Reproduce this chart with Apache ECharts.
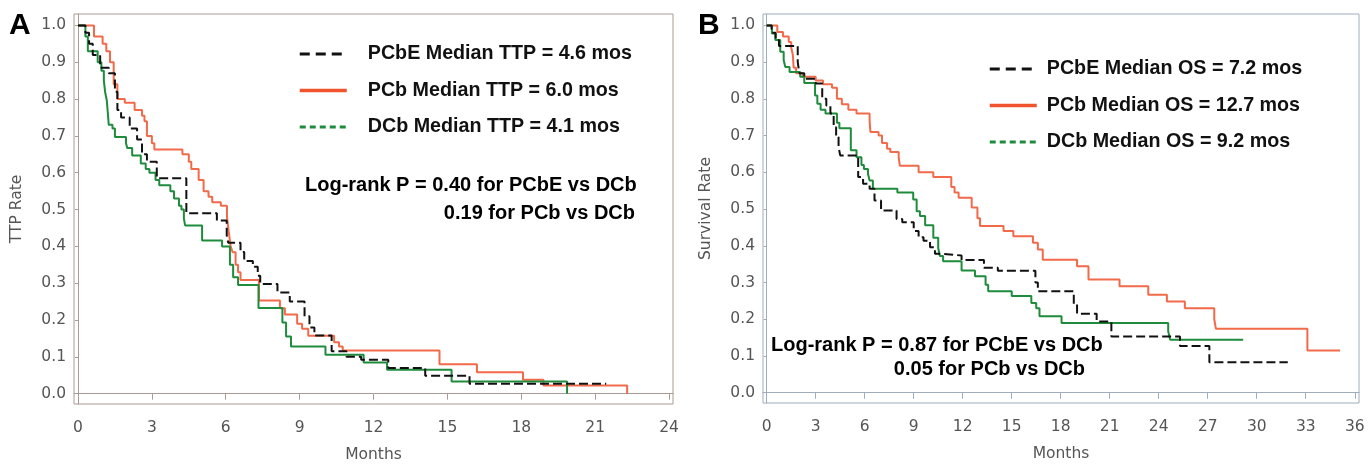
<!DOCTYPE html>
<html>
<head>
<meta charset="utf-8">
<title>TTP and OS by arm</title>
<script src="https://cdn.jsdelivr.net/npm/echarts@6.0.0/dist/echarts.min.js"></script>
<style>
  html, body { margin: 0; padding: 0; background: #fff; }
  #chart { width: 1369px; height: 464px; }
</style>
</head>
<body>
<div id="chart"></div>
<script>
// tick labels
var ttpMonthTicks = [0, 3, 6, 9, 12, 15, 18, 21, 24];
var osMonthTicks = [0, 3, 6, 9, 12, 15, 18, 21, 24, 27, 30, 33, 36];
var rateTicks = [0.0, 0.1, 0.2, 0.3, 0.4, 0.5, 0.6, 0.7, 0.8, 0.9, 1.0];

// legend names
var ttpNames = ['PCbE Median TTP = 4.6 mos', 'PCb Median TTP = 6.0 mos', 'DCb Median TTP = 4.1 mos'];
var osNames = ['PCbE Median OS = 7.2 mos', 'PCb Median OS = 12.7 mos', 'DCb Median OS = 9.2 mos'];

// panel A - time to progression (months, rate after each step)
var ttpPCbEMonths = [0, 0.3, 0.45, 0.6, 0.9, 1.25, 1.5, 1.6, 1.75, 2.1, 2.4, 2.6, 2.8, 3.2, 4.4, 5.64, 6.04, 6.1, 6.6, 6.75, 7.1, 7.3, 7.4, 8.1, 8.6, 9.2, 9.4, 9.6, 10.3, 10.9, 11.5, 12.6, 14.1, 15.9, 21.45];
var ttpPCbERate = [1.0, 0.98, 0.95, 0.92, 0.885, 0.87, 0.82, 0.77, 0.75, 0.72, 0.69, 0.65, 0.63, 0.585, 0.49, 0.47, 0.43, 0.41, 0.385, 0.36, 0.345, 0.32, 0.298, 0.275, 0.25, 0.21, 0.18, 0.158, 0.115, 0.1, 0.092, 0.07, 0.049, 0.027, 0.027];

var ttpPCbMonths = [0, 0.65, 1.0, 1.15, 1.3, 1.45, 1.6, 1.9, 2.3, 2.6, 2.7, 2.8, 3.0, 3.1, 4.24, 4.5, 4.6, 4.9, 5.1, 5.3, 5.45, 5.8, 6.05, 6.12, 6.2, 6.28, 6.4, 6.5, 6.6, 7.35, 8.2, 8.4, 8.9, 9.1, 9.35, 10.4, 10.6, 10.75, 14.68, 16.2, 18.07, 18.9, 22.3];
var ttpPCbRate = [1.0, 0.97, 0.95, 0.93, 0.9, 0.84, 0.8, 0.79, 0.77, 0.755, 0.74, 0.7, 0.68, 0.663, 0.65, 0.63, 0.61, 0.58, 0.55, 0.535, 0.52, 0.51, 0.48, 0.44, 0.4, 0.384, 0.35, 0.33, 0.309, 0.253, 0.232, 0.215, 0.19, 0.176, 0.157, 0.14, 0.128, 0.117, 0.08, 0.058, 0.038, 0.022, 0.0];

var ttpDCbMonths = [0, 0.3, 0.4, 0.8, 0.95, 1.05, 1.1, 1.17, 1.25, 1.4, 1.5, 1.95, 2.0, 2.2, 2.55, 2.75, 2.9, 3.15, 3.3, 3.75, 3.9, 4.1, 4.2, 4.3, 4.35, 5.04, 5.85, 6.17, 6.3, 6.5, 7.33, 8.3, 8.45, 8.65, 10.05, 11.6, 12.55, 15.17, 19.86];
var ttpDCbRate = [1.0, 0.97, 0.93, 0.9, 0.877, 0.85, 0.82, 0.796, 0.73, 0.72, 0.697, 0.68, 0.667, 0.647, 0.625, 0.61, 0.6, 0.58, 0.566, 0.55, 0.53, 0.51, 0.5, 0.476, 0.457, 0.416, 0.4, 0.35, 0.316, 0.295, 0.233, 0.193, 0.155, 0.128, 0.106, 0.085, 0.065, 0.033, 0.0];

// panel B - overall survival
var osPCbEMonths = [0, 0.3, 0.55, 0.75, 1.9, 2.0, 2.3, 3.0, 3.4, 3.65, 3.9, 4.1, 4.25, 4.4, 4.5, 5.6, 5.9, 6.3, 6.6, 7.0, 7.95, 8.3, 9.0, 9.3, 9.6, 10.0, 10.3, 10.8, 11.93, 13.3, 14.15, 16.45, 16.6, 18.8, 19.0, 20.2, 21.1, 25.3, 27.1, 31.9];
var osPCbERate = [1.0, 0.98, 0.96, 0.944, 0.9, 0.87, 0.855, 0.842, 0.8, 0.782, 0.76, 0.723, 0.696, 0.669, 0.646, 0.587, 0.569, 0.555, 0.523, 0.496, 0.473, 0.464, 0.44, 0.423, 0.414, 0.396, 0.378, 0.3735, 0.361, 0.34, 0.332, 0.3, 0.276, 0.24, 0.215, 0.194, 0.153, 0.127, 0.083, 0.083];

var osPCbMonths = [0, 0.65, 1.0, 1.35, 1.5, 1.6, 1.65, 1.8, 2.2, 3.0, 3.45, 4.0, 4.3, 4.6, 5.0, 5.5, 6.3, 6.35, 6.85, 7.06, 7.37, 7.57, 8.08, 8.15, 9.3, 10.2, 11.3, 11.5, 11.75, 12.55, 12.9, 13.06, 14.5, 15.1, 16.3, 16.6, 16.9, 19.0, 19.7, 21.6, 23.36, 24.5, 25.6, 27.4, 27.5, 33.1, 35.1];
var osPCbRate = [1.0, 0.982, 0.97, 0.955, 0.94, 0.92, 0.885, 0.87, 0.86, 0.85, 0.84, 0.83, 0.8, 0.785, 0.77, 0.76, 0.74, 0.71, 0.7, 0.68, 0.664, 0.655, 0.64, 0.618, 0.6, 0.587, 0.56, 0.545, 0.531, 0.504, 0.475, 0.454, 0.44, 0.426, 0.408, 0.39, 0.362, 0.344, 0.308, 0.29, 0.267, 0.248, 0.23, 0.2, 0.174, 0.115, 0.115];

var osDCbMonths = [0, 0.32, 0.53, 0.83, 1.04, 1.14, 1.4, 2.05, 2.3, 2.96, 3.1, 3.3, 3.6, 4.3, 4.45, 5.15, 5.5, 5.8, 5.95, 6.2, 6.3, 6.5, 8.0, 8.97, 9.18, 9.38, 9.7, 10.2, 10.5, 10.6, 10.8, 11.93, 12.75, 13.4, 13.56, 15.0, 16.2, 16.5, 16.7, 18.05, 24.58, 24.7, 29.17];
var osDCbRate = [1.0, 0.978, 0.96, 0.928, 0.905, 0.887, 0.873, 0.86, 0.843, 0.809, 0.787, 0.77, 0.76, 0.735, 0.72, 0.66, 0.641, 0.62, 0.609, 0.596, 0.578, 0.555, 0.545, 0.526, 0.494, 0.481, 0.456, 0.422, 0.394, 0.372, 0.358, 0.333, 0.317, 0.294, 0.276, 0.263, 0.244, 0.23, 0.208, 0.19, 0.167, 0.144, 0.144];

var black = '#111111';
var orange = '#f26a4a';
var green = '#1e8c3c';
var frameA = '#a89a94';
var frameB = '#9eacbb';
var tickFont = 'DejaVu Sans, Verdana, sans-serif';
var boldFont = 'Liberation Sans, Arial, sans-serif';
var hidden = { color: 'rgba(0,0,0,0)', borderWidth: 0, opacity: 0 };

function pairs(months, rate) {
    return months.map(function (m, i) { return [m, rate[i]]; });
}

function curve(name, idx, months, rate, color, dash) {
    return {
        name: name,
        type: 'line',
        xAxisIndex: idx,
        yAxisIndex: idx,
        step: 'end',
        symbol: 'none',
        silent: true,
        animation: false,
        data: pairs(months, rate),
        lineStyle: { color: color, width: 2, type: dash },
        itemStyle: { color: color }
    };
}

function xAxisFor(idx, min, max, ticks, color) {
    return {
        gridIndex: idx,
        type: 'value',
        min: min,
        max: max,
        name: 'Months',
        nameLocation: 'middle',
        nameGap: 43,
        nameTextStyle: { fontFamily: tickFont, fontSize: 15.5, color: '#555' },
        axisLine: { show: true, lineStyle: { color: color, width: 1 } },
        axisTick: { show: true, customValues: ticks, length: 6, lineStyle: { color: color } },
        axisLabel: { customValues: ticks, margin: 16, fontFamily: tickFont, fontSize: 15.5, color: '#555' },
        splitLine: { show: false }
    };
}

function yAxisFor(idx, name, color) {
    return {
        gridIndex: idx,
        type: 'value',
        min: -0.028,
        max: 1.031,
        name: name,
        nameLocation: 'middle',
        nameGap: 49,
        nameTextStyle: { fontFamily: tickFont, fontSize: 15.5, color: '#555' },
        axisLine: { show: true, lineStyle: { color: color, width: 1 } },
        axisTick: { show: true, customValues: rateTicks, length: 3, lineStyle: { color: color } },
        axisLabel: {
            customValues: rateTicks, margin: 8, fontFamily: tickFont, fontSize: 15.5, color: '#555',
            formatter: function (v) { return v.toFixed(1); }
        },
        splitLine: { show: false }
    };
}

function legendFor(names, left, top, gapLeft) {
    return {
        orient: 'vertical',
        left: left,
        top: top,
        padding: 0,
        itemWidth: 47,
        itemHeight: 14,
        itemGap: 16.5,
        selectedMode: false,
        textStyle: { fontFamily: boldFont, fontWeight: 'bold', fontSize: 19.7, color: '#111', lineHeight: 20, padding: [0, 0, 0, gapLeft] },
        data: [
            { name: names[0], itemStyle: hidden, lineStyle: { color: black, width: 3, type: [10, 6] } },
            { name: names[1], itemStyle: hidden, lineStyle: { color: '#f0532e', width: 3.5, type: 'solid' } },
            { name: names[2], itemStyle: hidden, lineStyle: { color: green, width: 3, type: [6, 4] } }
        ]
    };
}

function label(x, y, text, size, align) {
    return {
        type: 'text',
        x: x,
        y: y,
        silent: true,
        style: {
            text: text,
            font: 'bold ' + size + 'px ' + boldFont,
            fill: '#000',
            align: align, textAlign: align,
            verticalAlign: 'middle', textVerticalAlign: 'middle'
        }
    };
}

var chart = echarts.init(document.getElementById('chart'), null, { renderer: 'canvas' });

var option = {
    backgroundColor: '#fff',
    animation: false,
    grid: [
        { left: 74, top: 14, width: 599, height: 390, show: true, borderColor: frameA, borderWidth: 1, outerBoundsMode: 'none', containLabel: false },
        { left: 763, top: 14, width: 596, height: 389, show: true, borderColor: frameB, borderWidth: 1, outerBoundsMode: 'none', containLabel: false }
    ],
    xAxis: [
        xAxisFor(0, -0.162, 24.162, ttpMonthTicks, frameA),
        xAxisFor(1, -0.226, 36.26, osMonthTicks, frameB)
    ],
    yAxis: [
        yAxisFor(0, 'TTP Rate', frameA),
        yAxisFor(1, 'Survival Rate', frameB)
    ],
    legend: [
        legendFor(ttpNames, 298, 44, 16),
        legendFor(osNames, 988, 59, 5)
    ],
    series: [
        curve(ttpNames[1], 0, ttpPCbMonths, ttpPCbRate, orange, 'solid'),
        curve(ttpNames[2], 0, ttpDCbMonths, ttpDCbRate, green, 'solid'),
        curve(ttpNames[0], 0, ttpPCbEMonths, ttpPCbERate, black, [9, 4]),
        curve(osNames[1], 1, osPCbMonths, osPCbRate, orange, 'solid'),
        curve(osNames[2], 1, osDCbMonths, osDCbRate, green, 'solid'),
        curve(osNames[0], 1, osPCbEMonths, osPCbERate, black, [9, 4])
    ],
    graphic: [
        label(9, 26, 'A', 30, 'left'),
        label(698, 26, 'B', 30, 'left'),
        label(305, 185, 'Log-rank P = 0.40 for PCbE vs DCb', 20, 'left'),
        label(635, 213, '0.19 for PCb vs DCb', 20, 'right'),
        label(771, 345, 'Log-rank P = 0.87 for PCbE vs DCb', 20, 'left'),
        label(1085, 369, '0.05 for PCb vs DCb', 20, 'right')
    ]
};

chart.setOption(option);
</script>
</body>
</html>
